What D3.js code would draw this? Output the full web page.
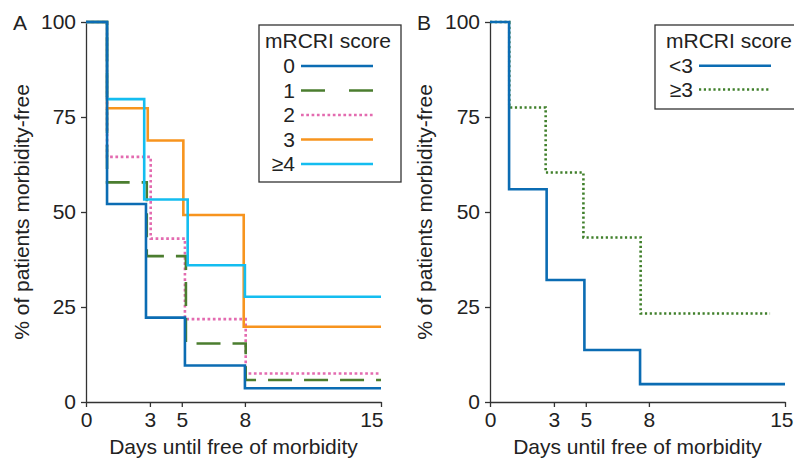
<!DOCTYPE html>
<html>
<head>
<meta charset="utf-8">
<script src="https://cdn.jsdelivr.net/npm/d3@7"></script>
<style>
  html, body { margin: 0; padding: 0; background: #fff; }
  svg { display: block; }
  text { font-family: "Liberation Sans", Arial, Helvetica, sans-serif; fill: #222; }
</style>
</head>
<body>
<svg id="chart" width="794" height="460"></svg>
<script>
// ---------- data ----------
const xTickPos = [0, 3.25, 4.87, 8.08, 15];
const xTickLabels = ["0", "3", "5", "8", "15"];
const yTicks = [0, 25, 50, 75, 100];

// Panel A: mRCRI score 0, 1, 2, 3, >=4
const seriesNamesA = ["0", "1", "2", "3", "\u22654"];
const timesA0 = [0, 1.07, 3.05, 5.03, 8.08, 15];
const valuesA0 = [100, 52.1, 22.2, 9.6, 3.6, 3.6];
const timesA1 = [0, 1.07, 3.09, 5.08, 8.12, 15];
const valuesA1 = [100, 57.8, 38.4, 15.4, 5.8, 5.8];
const timesA2 = [0, 1.07, 3.29, 5.03, 8.12, 15];
const valuesA2 = [100, 64.5, 43.0, 21.8, 7.5, 7.5];
const timesA3 = [0, 1.07, 3.14, 4.95, 8.02, 15];
const valuesA3 = [100, 77.3, 68.8, 49.2, 19.8, 19.8];
const timesA4 = [0, 1.07, 2.96, 5.17, 8.08, 15];
const valuesA4 = [100, 79.7, 53.3, 36.0, 27.7, 27.7];

// Panel B: mRCRI score <3, >=3
const seriesNamesB = ["<3", "\u22653"];
const timesB0 = [0, 0.97, 2.88, 4.8, 7.63, 15];
const valuesB0 = [100, 56.0, 32.1, 13.7, 4.7, 4.7];
const timesB1 = [0, 0.98, 2.83, 4.75, 7.66, 14.24];
const valuesB1 = [100, 77.5, 60.4, 43.3, 23.3, 23.3];

// ---------- styles ----------
const BLUE = "#0b6cb3", GREEN = "#4b7d2f", PINK = "#e36bb0", ORANGE = "#f7941e", CYAN = "#14bdf0", DGREEN = "#3f7f2a";
const LW = 2.6;

const svg = d3.select("#chart");
const FS = 21;

function zip(t, v) { return t.map((d, i) => ({ t: d, v: v[i] })); }

function drawPanel(cfg) {
  const g = svg.append("g");
  const x = d3.scaleLinear().domain([0, 15]).range([cfg.x0, cfg.x1]);
  const y = d3.scaleLinear().domain([0, 100]).range([402, 22]);

  // axes
  const ya = g.append("g").attr("transform", `translate(${cfg.x0},0)`)
    .call(d3.axisLeft(y).tickValues(yTicks).tickSize(5).tickSizeOuter(0).tickPadding(5));
  const xa = g.append("g").attr("transform", `translate(0,402)`)
    .call(d3.axisBottom(x).tickValues(xTickPos).tickSize(5).tickSizeOuter(0).tickPadding(5)
      .tickFormat((d, i) => xTickLabels[i]));
  [ya, xa].forEach(a => {
    a.selectAll("path, line").attr("stroke", "#333").attr("stroke-width", 1.3);
    a.selectAll("text").attr("font-size", FS).attr("fill", "#222")
      .attr("font-family", "Liberation Sans, Arial, sans-serif");
  });
  // last x tick label alignment
  xa.selectAll(".tick text").filter((d, i) => i === xTickPos.length - 1)
    .attr("text-anchor", cfg.lastAnchor).attr("dx", cfg.lastDx);

  // panel letter
  g.append("text").attr("x", cfg.letterX).attr("y", 29.5).attr("font-size", FS).text(cfg.letter);

  // axis titles
  g.append("text").attr("x", (cfg.x0 + cfg.x1) / 2).attr("y", 454).attr("text-anchor", "middle")
    .attr("font-size", FS).text("Days until free of morbidity");
  g.append("text").attr("transform", `translate(${cfg.ylabX},212) rotate(-90)`)
    .attr("text-anchor", "middle").attr("font-size", FS).text("% of patients morbidity-free");

  // lines
  const line = d3.line().x(d => x(d.t)).y(d => y(d.v)).curve(d3.curveStepAfter);
  cfg.order.forEach(i => {
    const s = cfg.series[i];
    g.append("path").datum(zip(s.t, s.v)).attr("d", line)
      .attr("fill", "none").attr("stroke", s.color).attr("stroke-width", LW)
      .attr("stroke-dasharray", s.dash || null).attr("stroke-linejoin", "miter");
  });

  // legend
  const L = cfg.legend;
  const lg = g.append("g");
  lg.append("rect").attr("x", L.x).attr("y", L.y).attr("width", L.w).attr("height", L.h)
    .attr("fill", "#fff").attr("stroke", "#333").attr("stroke-width", 1.3);
  lg.append("text").attr("x", L.titleX).attr("y", 47.5).attr("font-size", FS).text("mRCRI score");
  cfg.series.forEach((s, i) => {
    const cy = L.rowY[i];
    lg.append("text").attr("x", L.labelX).attr("y", cy + 7.3).attr("text-anchor", "end")
      .attr("font-size", FS).text(s.name);
    lg.append("line").attr("x1", L.labelX + 6).attr("x2", L.labelX + 78)
      .attr("y1", cy).attr("y2", cy).attr("stroke", s.color).attr("stroke-width", LW)
      .attr("stroke-dasharray", s.legendDash || s.dash || null);
  });
}

drawPanel({
  x0: 86, x1: 381, letter: "A", letterX: 13, ylabX: 29, lastAnchor: "end", lastDx: 2,
  series: [
    { name: seriesNamesA[0], t: timesA0, v: valuesA0, color: BLUE },
    { name: seriesNamesA[1], t: timesA1, v: valuesA1, color: GREEN, dash: "24,12", legendDash: "24,24" },
    { name: seriesNamesA[2], t: timesA2, v: valuesA2, color: PINK, dash: "2.7,2.6" },
    { name: seriesNamesA[3], t: timesA3, v: valuesA3, color: ORANGE },
    { name: seriesNamesA[4], t: timesA4, v: valuesA4, color: CYAN }
  ],
  order: [2, 1, 3, 4, 0],
  legend: { x: 259, y: 25, w: 142, h: 157, titleX: 265, labelX: 295, rowY: [66, 90.5, 115, 139.5, 164] }
});

drawPanel({
  x0: 490, x1: 785, letter: "B", letterX: 417, ylabX: 432, lastAnchor: "end", lastDx: 8,
  series: [
    { name: seriesNamesB[0], t: timesB0, v: valuesB0, color: BLUE },
    { name: seriesNamesB[1], t: timesB1, v: valuesB1, color: DGREEN, dash: "2.2,2.6" }
  ],
  order: [1, 0],
  legend: { x: 655, y: 25, w: 160, h: 84, titleX: 666, labelX: 693, rowY: [65.7, 89.5] }
});
</script>
</body>
</html>
